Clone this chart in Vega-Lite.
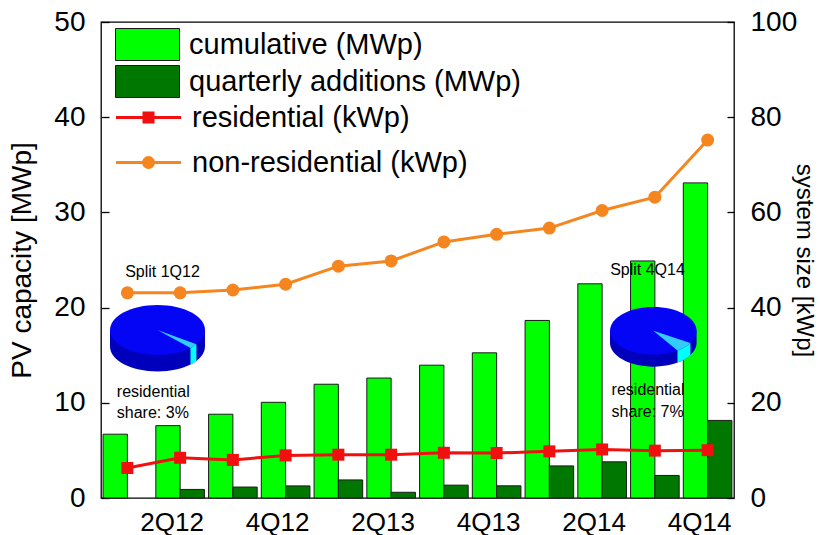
{
  "$schema": "https://vega.github.io/schema/vega-lite/v6.json",
  "width": 633,
  "height": 476,
  "autosize": {"type": "none"},
  "padding": {"left": 101, "top": 22, "right": 86, "bottom": 37},
  "background": "white",
  "config": {
    "font": "Liberation Sans",
    "view": {"stroke": "#000000", "strokeWidth": 1.3},
    "axis": {
      "labelFont": "Liberation Sans",
      "titleFont": "Liberation Sans",
      "labelColor": "#000000",
      "titleColor": "#000000",
      "titleFontWeight": "normal",
      "labelFontSize": 28,
      "titleFontSize": 28,
      "grid": false,
      "domain": false,
      "tickColor": "#000000",
      "tickWidth": 1.3
    },
    "legend": {
      "labelFont": "Liberation Sans",
      "labelFontSize": 29,
      "labelColor": "#000000",
      "labelLimit": 0
    }
  },
  "datasets": {
    "quarters": [
      {"q": "1Q12", "cum": 6.7},
      {"q": "2Q12", "cum": 7.6, "add": 0.9},
      {"q": "3Q12", "cum": 8.8, "add": 1.15},
      {"q": "4Q12", "cum": 10.05, "add": 1.27},
      {"q": "1Q13", "cum": 11.95, "add": 1.9},
      {"q": "2Q13", "cum": 12.6, "add": 0.6},
      {"q": "3Q13", "cum": 13.95, "add": 1.35},
      {"q": "4Q13", "cum": 15.25, "add": 1.28},
      {"q": "1Q14", "cum": 18.65, "add": 3.37},
      {"q": "2Q14", "cum": 22.5, "add": 3.8},
      {"q": "3Q14", "cum": 24.9, "add": 2.37},
      {"q": "4Q14", "cum": 33.1, "add": 8.15}
    ],
    "sizes": [
      {"q": "1Q12", "s": "residential (kWp)", "kwp": 6.3},
      {"q": "2Q12", "s": "residential (kWp)", "kwp": 8.45},
      {"q": "3Q12", "s": "residential (kWp)", "kwp": 8.0},
      {"q": "4Q12", "s": "residential (kWp)", "kwp": 8.95},
      {"q": "1Q13", "s": "residential (kWp)", "kwp": 9.1},
      {"q": "2Q13", "s": "residential (kWp)", "kwp": 9.1},
      {"q": "3Q13", "s": "residential (kWp)", "kwp": 9.5},
      {"q": "4Q13", "s": "residential (kWp)", "kwp": 9.45},
      {"q": "1Q14", "s": "residential (kWp)", "kwp": 9.8},
      {"q": "2Q14", "s": "residential (kWp)", "kwp": 10.2},
      {"q": "3Q14", "s": "residential (kWp)", "kwp": 9.95},
      {"q": "4Q14", "s": "residential (kWp)", "kwp": 10.05},
      {"q": "1Q12", "s": "non-residential (kWp)", "kwp": 43.1},
      {"q": "2Q12", "s": "non-residential (kWp)", "kwp": 43.1},
      {"q": "3Q12", "s": "non-residential (kWp)", "kwp": 43.7},
      {"q": "4Q12", "s": "non-residential (kWp)", "kwp": 44.9},
      {"q": "1Q13", "s": "non-residential (kWp)", "kwp": 48.7},
      {"q": "2Q13", "s": "non-residential (kWp)", "kwp": 49.8},
      {"q": "3Q13", "s": "non-residential (kWp)", "kwp": 53.8},
      {"q": "4Q13", "s": "non-residential (kWp)", "kwp": 55.4},
      {"q": "1Q14", "s": "non-residential (kWp)", "kwp": 56.7},
      {"q": "2Q14", "s": "non-residential (kWp)", "kwp": 60.4},
      {"q": "3Q14", "s": "non-residential (kWp)", "kwp": 63.2},
      {"q": "4Q14", "s": "non-residential (kWp)", "kwp": 75.2}
    ]
  },
  "layer": [
    {
      "layer": [
        {
          "data": {"name": "quarters"},
          "transform": [{"fold": ["cum", "add"], "as": ["key", "v"]}],
          "mark": {"type": "bar", "stroke": "#1a1a1a", "strokeWidth": 1, "opacity": 1},
          "encoding": {
            "x": {
              "field": "q", "type": "nominal",
              "scale": {"domain": ["1Q12","2Q12","3Q12","4Q12","1Q13","2Q13","3Q13","4Q13","1Q14","2Q14","3Q14","4Q14"], "paddingInner": 0, "paddingOuter": 0},
              "axis": {"values": ["2Q12","4Q12","2Q13","4Q13","2Q14","4Q14"], "ticks": false, "labelFontSize": 26, "labelBaseline": "alphabetic", "labelPadding": 32, "labelOffset": -8, "labelAngle": 0, "title": null}
            },
            "xOffset": {
              "field": "key", "type": "nominal",
              "scale": {"domain": ["cum", "add"], "paddingInner": 0, "paddingOuter": 0.085}
            },
            "y": {
              "field": "v", "type": "quantitative",
              "scale": {"domain": [0, 50]},
              "axis": {"orient": "left", "title": "PV capacity [MWp]", "values": [0,10,20,30,40,50], "tickSize": -8, "labelPadding": 24, "titlePadding": 17}
            },
            "fill": {
              "field": "key", "type": "nominal",
              "scale": {"domain": ["cum", "add"], "range": ["#00ff00", "#007800"]},
              "legend": {
                "orient": "none", "legendX": 30, "legendY": 6, "title": null,
                "symbolType": "M-2,-1H2V1H-2Z", "symbolSize": 1024,
                "symbolStrokeColor": "#1a1a1a", "symbolStrokeWidth": 1,
                "labelOffset": 25, "rowPadding": 0,
                "labelExpr": "datum.value == 'cum' ? 'cumulative (MWp)' : 'quarterly additions (MWp)'"
              }
            }
          }
        },
        {
          "data": {"values": [{"q": "2Q12", "v": 17.65}]},
          "encoding": {
            "x": {"field": "q", "type": "nominal", "bandPosition": 0.071,
              "scale": {"domain": ["1Q12","2Q12","3Q12","4Q12","1Q13","2Q13","3Q13","4Q13","1Q14","2Q14","3Q14","4Q14"], "paddingInner": 0, "paddingOuter": 0}},
            "y": {"field": "v", "type": "quantitative", "scale": {"domain": [0, 50]}}
          },
          "layer": [
            {"mark": {"type": "point", "shape": "M-1,0L-1,0.35A1,0.526 0 0,0 1,0.35L1,0Z", "size": 9025, "filled": true, "color": "#0000bc", "strokeWidth": 0, "opacity": 1}},
            {"mark": {"type": "point", "shape": "M-1,0A1,0.526 0 1,0 1,0A1,0.526 0 1,0 -1,0Z", "size": 9025, "filled": true, "color": "#0505f5", "strokeWidth": 0, "opacity": 1}},
            {"mark": {"type": "point", "shape": "M0,0L0.819,0.302A1,0.526 0 0,1 0.695,0.378Z", "size": 9025, "filled": true, "color": "#33ccff", "strokeWidth": 0, "opacity": 1}},
            {"mark": {"type": "point", "shape": "M0.819,0.302L0.819,0.652A1,0.526 0 0,1 0.695,0.728L0.695,0.378A1,0.526 0 0,0 0.819,0.302Z", "size": 9025, "filled": true, "color": "#00ffff", "strokeWidth": 0, "opacity": 1}}
          ]
        },
        {
          "data": {"values": [{"q": "3Q14", "v": 17.57}]},
          "encoding": {
            "x": {"field": "q", "type": "nominal", "bandPosition": 0.47,
              "scale": {"domain": ["1Q12","2Q12","3Q12","4Q12","1Q13","2Q13","3Q13","4Q13","1Q14","2Q14","3Q14","4Q14"], "paddingInner": 0, "paddingOuter": 0}},
            "y": {"field": "v", "type": "quantitative", "scale": {"domain": [0, 50]}}
          },
          "layer": [
            {"mark": {"type": "point", "shape": "M-1,0L-1,0.28A1,0.55 0 0,0 1,0.28L1,0Z", "size": 7500, "filled": true, "color": "#0000bc", "strokeWidth": 0, "opacity": 1}},
            {"mark": {"type": "point", "shape": "M-1,0A1,0.55 0 1,0 1,0A1,0.55 0 1,0 -1,0Z", "size": 7500, "filled": true, "color": "#0505f5", "strokeWidth": 0, "opacity": 1}},
            {"mark": {"type": "point", "shape": "M0,0L0.857,0.283A1,0.55 0 0,1 0.559,0.456Z", "size": 7500, "filled": true, "color": "#33ccff", "strokeWidth": 0, "opacity": 1}},
            {"mark": {"type": "point", "shape": "M0.857,0.283L0.857,0.563A1,0.55 0 0,1 0.559,0.736L0.559,0.456A1,0.55 0 0,0 0.857,0.283Z", "size": 7500, "filled": true, "color": "#00ffff", "strokeWidth": 0, "opacity": 1}}
          ]
        },
        {
          "data": {"values": [{"q": "2Q12", "v": 23.74, "t": "Split 1Q12"}]},
          "mark": {"type": "text", "fontSize": 16, "font": "Liberation Sans", "align": "center", "baseline": "middle", "color": "#000000"},
          "encoding": {
            "x": {"field": "q", "type": "nominal", "bandPosition": 0.166,
              "scale": {"domain": ["1Q12","2Q12","3Q12","4Q12","1Q13","2Q13","3Q13","4Q13","1Q14","2Q14","3Q14","4Q14"], "paddingInner": 0, "paddingOuter": 0}},
            "y": {"field": "v", "type": "quantitative", "scale": {"domain": [0, 50]}},
            "text": {"field": "t"}
          }
        },
        {
          "data": {"values": [{"q": "3Q14", "v": 23.95, "t": "Split 4Q14"}]},
          "mark": {"type": "text", "fontSize": 16, "font": "Liberation Sans", "align": "center", "baseline": "middle", "color": "#000000"},
          "encoding": {
            "x": {"field": "q", "type": "nominal", "bandPosition": 0.36,
              "scale": {"domain": ["1Q12","2Q12","3Q12","4Q12","1Q13","2Q13","3Q13","4Q13","1Q14","2Q14","3Q14","4Q14"], "paddingInner": 0, "paddingOuter": 0}},
            "y": {"field": "v", "type": "quantitative", "scale": {"domain": [0, 50]}},
            "text": {"field": "t"}
          }
        },
        {
          "data": {"values": [{"q": "1Q12", "v": 10.64, "t": "residential\nshare: 3%"}]},
          "mark": {"type": "text", "fontSize": 16, "font": "Liberation Sans", "align": "left", "baseline": "alphabetic", "lineBreak": "\n", "lineHeight": 21.7, "color": "#000000"},
          "encoding": {
            "x": {"field": "q", "type": "nominal", "bandPosition": 0.3,
              "scale": {"domain": ["1Q12","2Q12","3Q12","4Q12","1Q13","2Q13","3Q13","4Q13","1Q14","2Q14","3Q14","4Q14"], "paddingInner": 0, "paddingOuter": 0}},
            "y": {"field": "v", "type": "quantitative", "scale": {"domain": [0, 50]}},
            "text": {"field": "t"}
          }
        },
        {
          "data": {"values": [{"q": "2Q14", "v": 10.82, "t": "residential\nshare: 7%"}]},
          "mark": {"type": "text", "fontSize": 16, "font": "Liberation Sans", "align": "left", "baseline": "alphabetic", "lineBreak": "\n", "lineHeight": 21.7, "color": "#000000"},
          "encoding": {
            "x": {"field": "q", "type": "nominal", "bandPosition": 0.68,
              "scale": {"domain": ["1Q12","2Q12","3Q12","4Q12","1Q13","2Q13","3Q13","4Q13","1Q14","2Q14","3Q14","4Q14"], "paddingInner": 0, "paddingOuter": 0}},
            "y": {"field": "v", "type": "quantitative", "scale": {"domain": [0, 50]}},
            "text": {"field": "t"}
          }
        }
      ]
    },
    {
      "data": {"name": "sizes"},
      "layer": [
        {
          "transform": [{"filter": "datum.s == 'residential (kWp)'"}],
          "mark": {"type": "line", "strokeWidth": 3, "point": {"shape": "square", "size": 144, "filled": true, "opacity": 1}},
          "encoding": {
            "x": {"field": "q", "type": "nominal",
              "scale": {"domain": ["1Q12","2Q12","3Q12","4Q12","1Q13","2Q13","3Q13","4Q13","1Q14","2Q14","3Q14","4Q14"], "paddingInner": 0, "paddingOuter": 0}},
            "y": {
              "field": "kwp", "type": "quantitative",
              "scale": {"domain": [0, 100]},
              "axis": {"orient": "right", "title": "system size [kWp]", "titleFontSize": 24, "values": [0,20,40,60,80,100], "tickSize": -7, "labelPadding": 23, "titlePadding": -5}
            },
            "color": {
              "field": "s", "type": "nominal",
              "scale": {"domain": ["residential (kWp)"], "range": ["#f01010"]},
              "legend": {
                "orient": "none", "legendX": 33, "legendY": 81, "title": null,
                "symbolType": "M-4.06,0H4.06 M-0.5625,-0.5625H0.5625V0.5625H-0.5625Z M-0.1875,-0.1875H0.1875V0.1875H-0.1875Z",
                "symbolSize": 256, "symbolStrokeWidth": 3, "symbolFillColor": "#f01010", "symbolStrokeColor": "#f01010",
                "labelOffset": 29
              }
            }
          }
        },
        {
          "transform": [{"filter": "datum.s == 'non-residential (kWp)'"}],
          "mark": {"type": "line", "strokeWidth": 3, "point": {"shape": "circle", "size": 169, "filled": true, "opacity": 1}},
          "encoding": {
            "x": {"field": "q", "type": "nominal",
              "scale": {"domain": ["1Q12","2Q12","3Q12","4Q12","1Q13","2Q13","3Q13","4Q13","1Q14","2Q14","3Q14","4Q14"], "paddingInner": 0, "paddingOuter": 0}},
            "y": {"field": "kwp", "type": "quantitative", "scale": {"domain": [0, 100]}},
            "color": {
              "field": "s", "type": "nominal",
              "scale": {"domain": ["non-residential (kWp)"], "range": ["#f5861f"]},
              "legend": {
                "orient": "none", "legendX": 33, "legendY": 126, "title": null,
                "symbolType": "M-4.06,0H4.06 M-0.625,0A0.625,0.625 0 1,0 0.625,0A0.625,0.625 0 1,0 -0.625,0Z M-0.25,0A0.25,0.25 0 1,0 0.25,0A0.25,0.25 0 1,0 -0.25,0Z",
                "symbolSize": 256, "symbolStrokeWidth": 3, "symbolFillColor": "#f5861f", "symbolStrokeColor": "#f5861f",
                "labelOffset": 29
              }
            }
          }
        }
      ],
      "resolve": {"scale": {"color": "independent"}, "legend": {"color": "independent"}}
    }
  ],
  "resolve": {"scale": {"y": "independent"}}
}
